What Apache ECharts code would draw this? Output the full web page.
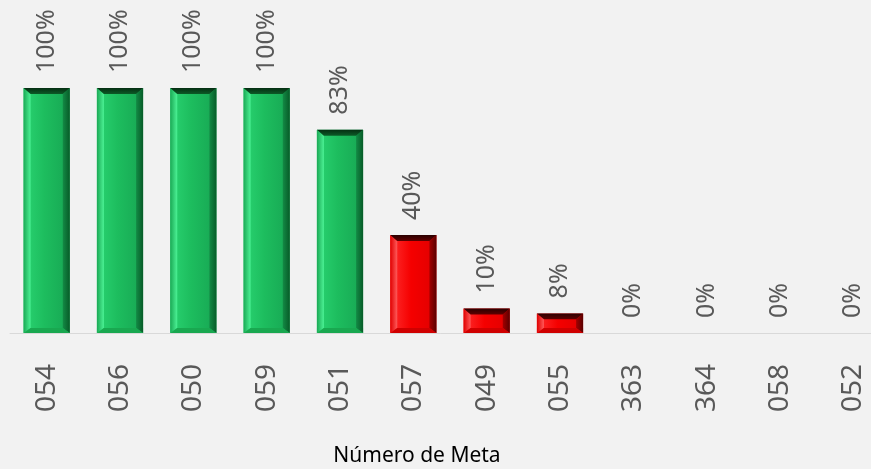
<!DOCTYPE html>
<html>
<head>
<meta charset="utf-8">
<title>Número de Meta</title>
<script src="https://cdn.jsdelivr.net/npm/echarts@6/dist/echarts.min.js"></script>
<style>
  html, body { margin: 0; padding: 0; background: #f2f2f2; }
  #chart { width: 871px; height: 469px; }
</style>
</head>
<body>
<div id="chart"></div>
<script>
'use strict';

// dados
var categories = ['054', '056', '050', '059', '051', '057', '049', '055', '363', '364', '058', '052'];
var values = [100, 100, 100, 100, 83, 40, 10, 8, 0, 0, 0, 0];
var axisTitle = 'Número de Meta';

// cores do bisel (verde = meta ok, vermelho = abaixo)
var bevel = {
    green: {
        face: ['#2ad472', '#1dbd5e', '#17a653'],
        top: ['#052e12', '#0c5a27'],
        left: ['#1aa955', '#4cf295'],
        right: ['#138a45', '#075c28'],
        bottom: '#19a850'
    },
    red: {
        face: ['#ff2f2f', '#f50000', '#e00000'],
        top: ['#2a0000', '#5e0000'],
        left: ['#e00000', '#ff5a5a'],
        right: ['#a30000', '#5a0000'],
        bottom: '#d00000'
    }
};

function grad(x2, y2, c) {
    return new echarts.graphic.LinearGradient(0, 0, x2, y2, [
        { offset: 0, color: c[0] },
        { offset: 1, color: c[1] }
    ]);
}

function poly(pts, fill) {
    return { type: 'polygon', shape: { points: pts }, style: { fill: fill } };
}

function renderBar(params, api) {
    var idx = api.value(0);
    var v = api.value(1);
    var base = api.coord([idx, 0]);
    var top = api.coord([idx, v]);
    var w = api.size([1, 0])[0] * 0.63;
    var x0 = base[0] - w / 2, x1 = base[0] + w / 2;
    var y0 = top[1], y1 = base[1];
    var h = y1 - y0;
    var children = [];
    if (h > 0.5) {
        var c = v >= 50 ? bevel.green : bevel.red;
        var t = Math.min(6, h * 0.3);
        var b = Math.min(5, h * 0.25);
        var s = 7;
        children.push({
            type: 'rect',
            shape: { x: x0, y: y0, width: w, height: h },
            style: {
                fill: new echarts.graphic.LinearGradient(0, 0, 1, 0, [
                    { offset: 0, color: c.face[0] },
                    { offset: 0.45, color: c.face[1] },
                    { offset: 1, color: c.face[2] }
                ])
            }
        });
        children.push(poly([[x0, y0], [x0 + s, y0 + t], [x0 + s, y1 - b], [x0, y1]], grad(1, 0, c.left)));
        children.push(poly([[x1, y0], [x1, y1], [x1 - s, y1 - b], [x1 - s, y0 + t]], grad(1, 0, c.right)));
        children.push(poly([[x0, y1], [x0 + s, y1 - b], [x1 - s, y1 - b], [x1, y1]], c.bottom));
        children.push(poly([[x0, y0], [x1, y0], [x1 - s, y0 + t], [x0 + s, y0 + t]], grad(0, 1, c.top)));
    }
    children.push({
        type: 'text',
        x: base[0],
        y: y0 - 15,
        rotation: Math.PI / 2,
        style: {
            text: v + '%',
            fill: '#595959',
            font: '25px "Noto Sans", sans-serif',
            align: 'left',
            verticalAlign: 'middle'
        }
    });
    return { type: 'group', children: children };
}

var chart = echarts.init(document.getElementById('chart'));
chart.setOption({
    backgroundColor: '#f2f2f2',
    animation: false,
    grid: { left: 10, top: 88, width: 880, bottom: 136, outerBoundsMode: 'none', containLabel: false },
    xAxis: {
        type: 'category',
        data: categories,
        axisLine: { lineStyle: { color: '#d9d9d9', width: 1 } },
        axisTick: { show: false },
        axisLabel: {
            rotate: 90,
            margin: 31,
            color: '#595959',
            fontSize: 28,
            fontFamily: 'Noto Sans'
        }
    },
    yAxis: {
        type: 'value',
        min: 0,
        max: 100,
        show: false,
        splitLine: { show: false }
    },
    graphic: [{
        type: 'text',
        x: 417,
        y: 456,
        style: {
            text: axisTitle,
            fill: '#000',
            font: '21px "Noto Sans", sans-serif',
            align: 'center',
            verticalAlign: 'middle'
        }
    }],
    series: [{
        type: 'custom',
        renderItem: renderBar,
        data: values.map(function (v, i) { return [i, v]; }),
        encode: { x: 0, y: 1 },
        clip: false
    }]
});
</script>
</body>
</html>
